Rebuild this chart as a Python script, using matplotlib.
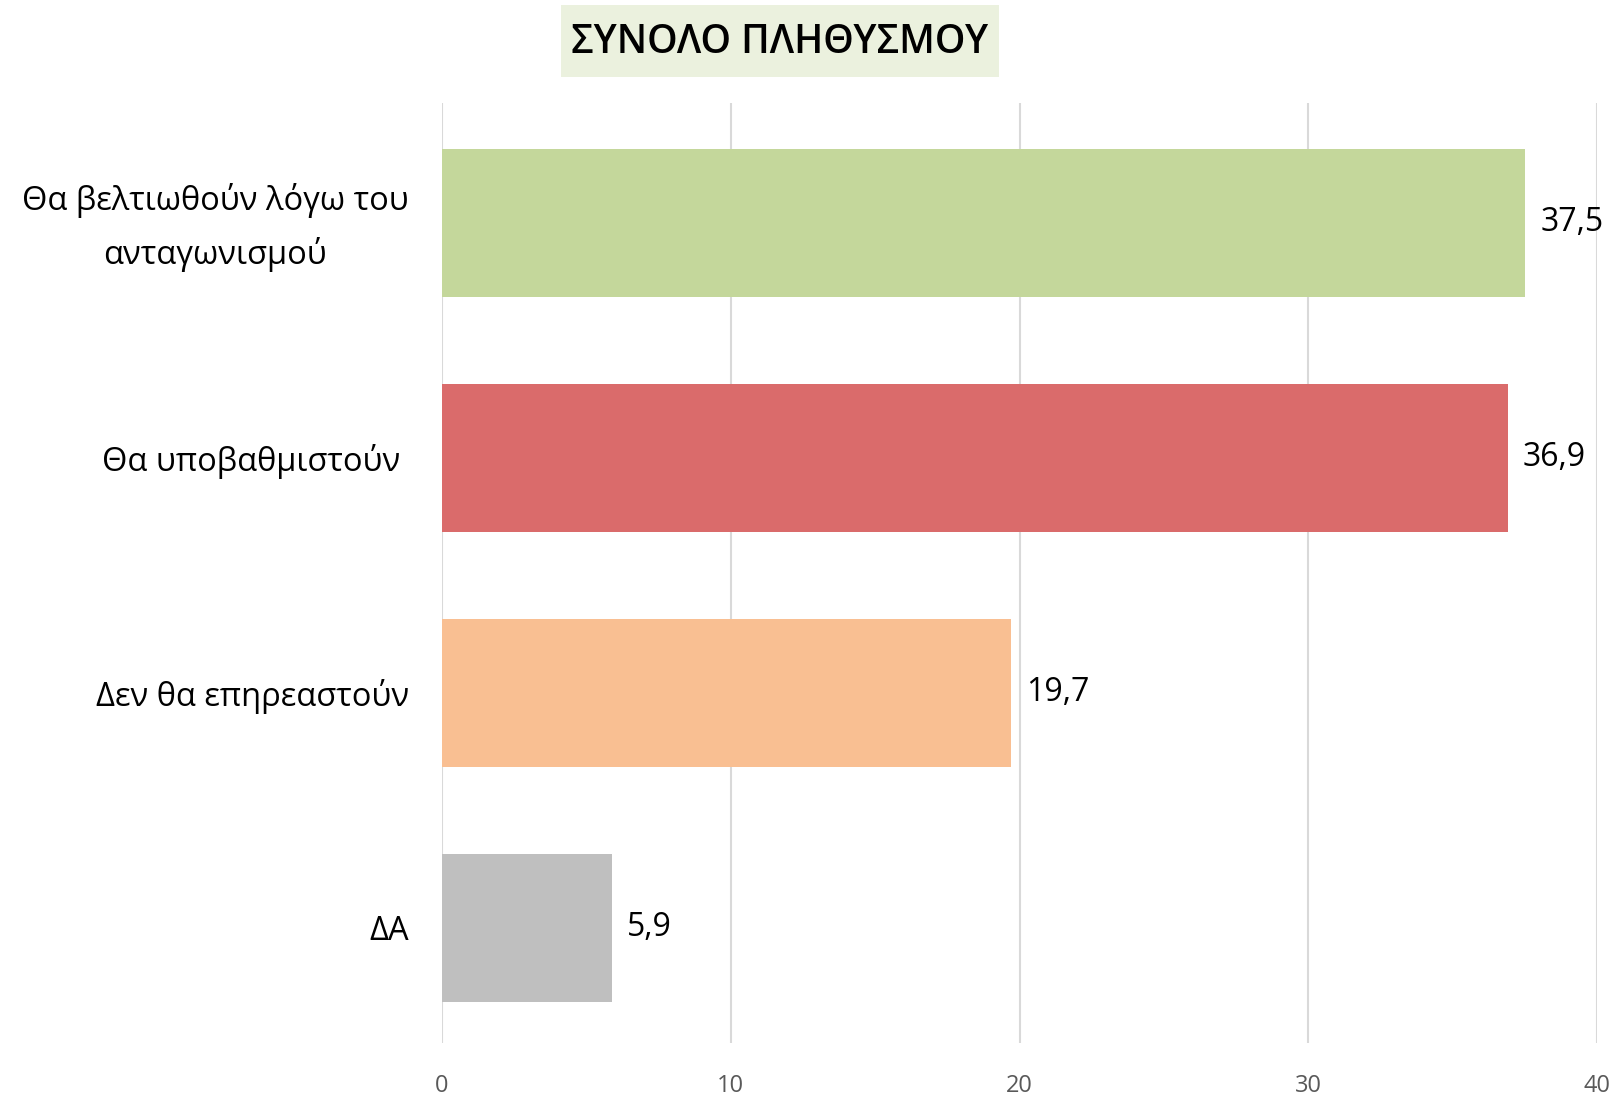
import matplotlib
matplotlib.use("Agg")
import matplotlib.pyplot as plt
from matplotlib.patches import Rectangle
from matplotlib.transforms import ScaledTranslation

categories = ["Θα βελτιωθούν λόγω του\nανταγωνισμού", "Θα υποβαθμιστούν ", "Δεν θα επηρεαστούν", "ΔΑ"]
values = [37.5, 36.9, 19.7, 5.9]
value_labels = ["37,5", "36,9", "19,7", "5,9"]
colors = ["#C4D79B", "#DA6B6B", "#F9BF92", "#BFBFBF"]
xticks = [0, 10, 20, 30, 40]
title = "ΣΥΝΟΛΟ ΠΛΗΘΥΣΜΟΥ"

plt.rcParams['font.family'] = ['Open Sans', 'DejaVu Sans']

fig = plt.figure(figsize=(16.19, 10.96), dpi=100)
ax = fig.add_axes([0.273, 0.0484, 0.7136, 0.8576])

y = list(range(len(categories)))
ax.barh(y, values, height=0.63, color=colors, zorder=3)
ax.set_ylim(3.49, -0.51)
ax.set_xlim(0, 40)
ax.set_xticks(xticks)
ax.set_xticklabels([str(t) for t in xticks], fontsize=17, color="#595959")
ax.tick_params(axis='x', length=0, pad=22)
ax.set_yticks(y)
ax.set_yticklabels(categories, fontsize=23.5, color="#000000",
                   multialignment='center', linespacing=1.7)
ax.tick_params(axis='y', length=0, pad=24)
ax.grid(axis='x', color="#D9D9D9", linewidth=1.5, zorder=0)
for s in ax.spines.values():
    s.set_visible(False)

# nudge the two-line label so its block is centred on the bar
lbl0 = ax.get_yticklabels()[0]
lbl0.set_transform(lbl0.get_transform() + ScaledTranslation(0, 0.09, fig.dpi_scale_trans))

for yi, v, lab in zip(y, values, value_labels):
    ax.annotate(lab, (v, yi), xytext=(15, 0), textcoords='offset pixels',
                va='center', ha='left', fontsize=23, color="#000000")

fig.add_artist(Rectangle((0.3465, 0.9297), 0.2705, 0.0657, transform=fig.transFigure,
                         facecolor="#EBF1DE", edgecolor='none', zorder=0))
fig.text(0.4817, 0.9605, title, ha='center', va='center', fontsize=28,
         fontweight='semibold', color="#000000")

fig.savefig("out.png", dpi=100)
